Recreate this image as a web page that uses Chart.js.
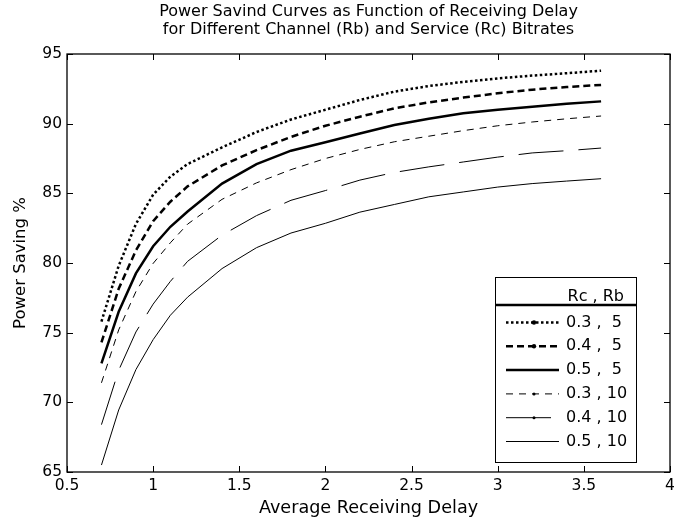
<!DOCTYPE html>
<html><head><meta charset="utf-8">
<script src="https://cdn.jsdelivr.net/npm/chart.js@4.4.1/dist/chart.umd.min.js"></script>
<style>html,body{margin:0;padding:0;background:#fff;}</style>
</head><body>
<canvas id="c" width="694" height="523"></canvas>
<script>
// ---- data ----
const delays = [0.7, 0.8, 0.9, 1.0, 1.1, 1.2, 1.4, 1.6, 1.8, 2.0, 2.2, 2.4, 2.6, 2.8, 3.0, 3.2, 3.4, 3.6];
const saving_03_5  = [75.8, 79.8, 82.8, 84.9, 86.2, 87.1, 88.3, 89.4, 90.3, 91.0, 91.7, 92.3, 92.7, 93.0, 93.25, 93.45, 93.62, 93.8];
const saving_04_5  = [74.3, 78.15, 80.9, 83.0, 84.4, 85.5, 87.0, 88.1, 89.05, 89.85, 90.5, 91.1, 91.53, 91.87, 92.18, 92.44, 92.63, 92.78];
const saving_05_5  = [72.8, 76.5, 79.25, 81.2, 82.6, 83.7, 85.7, 87.1, 88.06, 88.66, 89.3, 89.9, 90.36, 90.75, 91.0, 91.22, 91.43, 91.6];
const saving_03_10 = [71.4, 75.2, 77.95, 79.97, 81.45, 82.79, 84.57, 85.75, 86.7, 87.5, 88.15, 88.7, 89.1, 89.5, 89.85, 90.12, 90.35, 90.55];
const saving_04_10 = [68.4, 72.3, 75.05, 77.05, 78.68, 80.12, 82.0, 83.4, 84.5, 85.2, 85.95, 86.5, 86.9, 87.25, 87.6, 87.9, 88.06, 88.25];
const saving_05_10 = [65.5, 69.45, 72.35, 74.5, 76.25, 77.55, 79.6, 81.1, 82.15, 82.85, 83.65, 84.2, 84.75, 85.1, 85.45, 85.7, 85.88, 86.05];
const seriesLabels = ['0.3 ,  5', '0.4 ,  5', '0.5 ,  5', '0.3 , 10', '0.4 , 10', '0.5 , 10'];
const legendTitle = 'Rc , Rb';
const titleLines = ['Power Savind Curves as Function of Receiving Delay', 'for Different Channel (Rb) and Service (Rc) Bitrates'];
const xAxisTitle = 'Average Receiving Delay';
const yAxisTitle = 'Power Saving %';
const xTickValues = [0.5, 1, 1.5, 2, 2.5, 3, 3.5, 4];
const xTickLabels = ['0.5', '1', '1.5', '2', '2.5', '3', '3.5', '4'];
const yTickValues = [65, 70, 75, 80, 85, 90, 95];
const yTickLabels = ['65', '70', '75', '80', '85', '90', '95'];

// ---- styles ----
const FONT = 'DejaVu Sans';
const seriesValues = [saving_03_5, saving_04_5, saving_05_5, saving_03_10, saving_04_10, saving_05_10];
const styles = [
  {w: 2.5, dash: [2.5, 2.5], marker: 2.2},
  {w: 2.5, dash: [7, 4], marker: 2.2},
  {w: 2.5, dash: [], marker: 0},
  {w: 1, dash: [7, 6], marker: 1.5},
  {w: 1, dash: [45, 15], marker: 1.5},
  {w: 1, dash: [], marker: 0}
];

const datasets = seriesValues.map((vals, i) => ({
  label: seriesLabels[i],
  data: delays.map((d, j) => ({x: d, y: vals[j]})),
  borderColor: '#000',
  backgroundColor: '#000',
  borderWidth: styles[i].w,
  borderDash: styles[i].dash,
  borderCapStyle: 'butt',
  pointRadius: 0,
  tension: 0,
  fill: false
}));

const framePlugin = {
  id: 'frame',
  afterDatasetsDraw(chart) {
    const {ctx, chartArea: a, scales: {x, y}} = chart;
    ctx.save();
    ctx.strokeStyle = '#000';
    ctx.lineWidth = 1;
    ctx.setLineDash([]);
    const tl = 6;
    ctx.beginPath();
    x.ticks.forEach(t => {
      const px = Math.round(x.getPixelForValue(t.value)) + 0.5;
      ctx.moveTo(px, a.bottom); ctx.lineTo(px, a.bottom - tl);
      ctx.moveTo(px, a.top); ctx.lineTo(px, a.top + tl);
    });
    y.ticks.forEach(t => {
      const py = Math.round(y.getPixelForValue(t.value)) + 0.5;
      ctx.moveTo(a.left, py); ctx.lineTo(a.left + tl, py);
      ctx.moveTo(a.right, py); ctx.lineTo(a.right - tl, py);
    });
    ctx.stroke();
    ctx.lineWidth = 1.3;
    ctx.strokeRect(a.left, a.top, a.right - a.left, a.bottom - a.top);

    // legend box
    const bx = a.right - 175, bw = 141, bb = a.bottom - 10, bh = 185, by = bb - bh;
    ctx.fillStyle = '#fff';
    ctx.fillRect(bx, by, bw, bh);
    ctx.lineWidth = 1;
    ctx.strokeRect(bx + 0.5, by + 0.5, bw, bh);
    ctx.fillStyle = '#000';
    ctx.font = '16px "' + FONT + '"';
    ctx.textBaseline = 'middle';
    ctx.textAlign = 'right';
    ctx.fillText(legendTitle, bx + 129, by + 20);
    ctx.lineWidth = 2.5;
    ctx.beginPath(); ctx.moveTo(bx, by + 28); ctx.lineTo(bx + bw, by + 28); ctx.stroke();
    ctx.textAlign = 'left';
    chart.data.datasets.forEach((ds, i) => {
      const ry = by + 45.5 + i * 23.8;
      ctx.lineWidth = ds.borderWidth;
      ctx.setLineDash(ds.borderDash);
      ctx.lineCap = 'butt';
      ctx.beginPath(); ctx.moveTo(bx + 11, ry); ctx.lineTo(bx + 64, ry); ctx.stroke();
      ctx.setLineDash([]);
      if (styles[i].marker) {
        ctx.beginPath(); ctx.arc(bx + 39, ry, styles[i].marker, 0, Math.PI * 2); ctx.fill();
      }
      ctx.fillText(ds.label, bx + 71, ry);
    });
    ctx.restore();
  }
};

new Chart(document.getElementById('c'), {
  type: 'line',
  data: {datasets},
  plugins: [framePlugin],
  options: {
    responsive: false,
    animation: false,
    layout: {padding: {left: 0, right: 24, top: 0, bottom: 0}},
    plugins: {
      legend: {display: false},
      tooltip: {enabled: false},
      title: {
        display: true,
        fullSize: false,
        text: titleLines,
        color: '#000',
        font: {family: FONT, size: 16, weight: 'normal', lineHeight: 1.12},
        padding: {top: 3, bottom: 15.16}
      }
    },
    scales: {
      x: {
        type: 'linear',
        min: 0.5, max: 4,
        afterFit(s) { s.height = 51; },
        afterBuildTicks(s) { s.ticks = xTickValues.map(v => ({value: v})); },
        grid: {display: false, drawTicks: false},
        border: {display: false},
        ticks: {
          autoSkip: false, maxRotation: 0, padding: 5, color: '#000',
          font: {family: FONT, size: 15.5},
          callback: (v) => xTickLabels[xTickValues.indexOf(v)]
        },
        title: {display: true, text: xAxisTitle, color: '#000',
          font: {family: FONT, size: 17.6, lineHeight: 1.2}, padding: {top: 0, bottom: 4.5}}
      },
      y: {
        type: 'linear',
        min: 65, max: 95,
        afterFit(s) { s.width = 67; },
        afterBuildTicks(s) { s.ticks = yTickValues.map(v => ({value: v})); },
        grid: {display: false, drawTicks: false},
        border: {display: false},
        ticks: {
          autoSkip: false, padding: 5, color: '#000',
          font: {family: FONT, size: 15.5},
          callback: (v) => yTickLabels[yTickValues.indexOf(v)]
        },
        title: {display: true, text: yAxisTitle, color: '#000',
          font: {family: FONT, size: 16.5, lineHeight: 1.2}, padding: {top: 11, bottom: 0}}
      }
    }
  }
});
</script>
</body></html>
